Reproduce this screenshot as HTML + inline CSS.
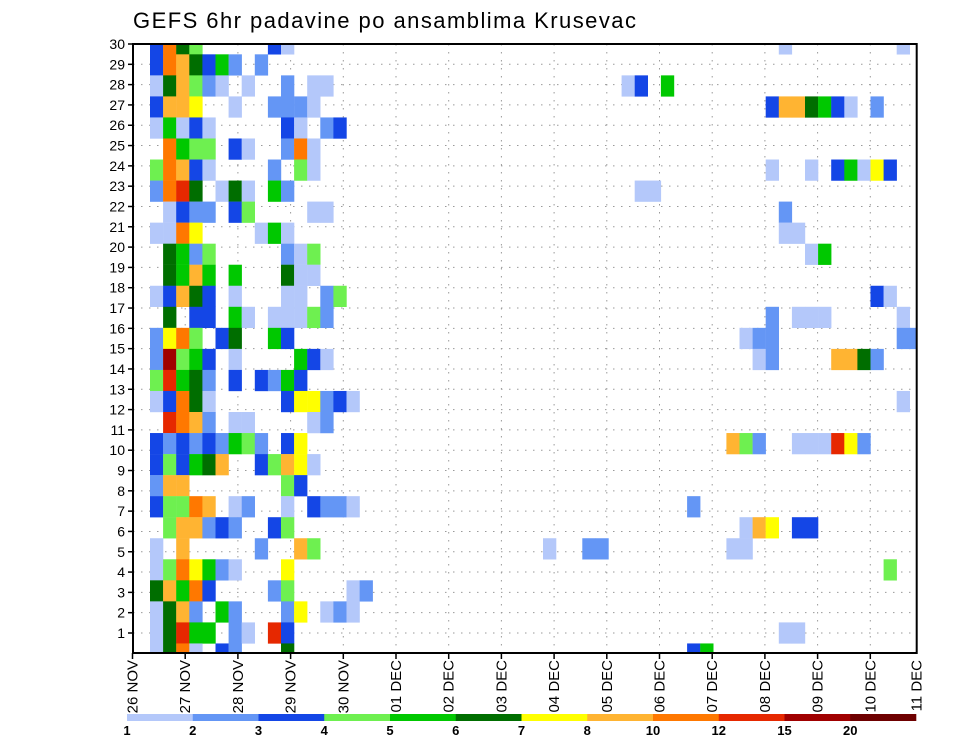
<!DOCTYPE html>
<html><head><meta charset="utf-8">
<style>
html,body{margin:0;padding:0;background:#fff;}
svg{display:block;font-family:"Liberation Sans",sans-serif;}
</style></head>
<body>
<svg id="chart" width="960" height="742" viewBox="0 0 960 742" xmlns="http://www.w3.org/2000/svg">
<rect x="0" y="0" width="960" height="742" fill="#fff"/>
<text x="133" y="28" font-size="22" textLength="503" fill="#000">GEFS 6hr padavine po ansamblima Krusevac</text>
<defs><clipPath id="plotclip"><rect x="133" y="44" width="783.7" height="609"/></clipPath></defs>
<g id="grid"></g>
<g id="cells" clip-path="url(#plotclip)"></g>
<rect x="133" y="44" width="783.7" height="609" fill="none" stroke="#000" stroke-width="2"/>
<g id="yaxis"></g>
<g id="xaxis"></g>
<g id="legend"></g>
</svg>
<script>
// ---- data ----
const dayLabels = ["26 NOV","27 NOV","28 NOV","29 NOV","30 NOV","01 DEC","02 DEC","03 DEC","04 DEC","05 DEC","06 DEC","07 DEC","08 DEC","09 DEC","10 DEC","11 DEC"];
const memberTicks = [1,2,3,4,5,6,7,8,9,10,11,12,13,14,15,16,17,18,19,20,21,22,23,24,25,26,27,28,29,30];
const levelBounds = [1,2,3,4,5,6,7,8,10,12,15,20];
const levelColors = ["#b4c8fa","#6496f5","#1446e6","#6ef050","#00c800","#006e00","#ffff00","#ffb432","#ff7800","#e62800","#a00000","#6e0000"];
const codeValues = {L:1.5,M:2.5,B:3.5,g:4.5,G:5.5,D:6.5,Y:7.5,o:9,O:11,R:13.5,K:17};
// each member row (top to bottom): "step+class" tokens
const memberRows = [
"0B 1O 2D 3g 9B 10L 48L 57L",
"0B 1O 2o 3D 4B 5G 6M 8M",
"0L 1D 2o 3g 4M 5L 7L 10M 12L 13L 36L 37B 39G",
"0B 1o 2o 3Y 6L 9M 10M 11M 12L 47B 48o 49o 50D 51G 52B 53L 55M",
"0L 1G 2L 3B 4L 10B 11L 13M 14B",
"1O 2G 3g 4g 6B 7L 10M 11O 12L",
"0g 1O 2o 3B 4L 9M 11g 12L 47L 50L 52B 53G 54L 55Y 56B",
"0M 1O 2R 3D 5L 6D 7L 9G 10M 37L 38L",
"1L 2B 3M 4M 6B 7g 12L 13L 48M",
"0L 1L 2O 3Y 8L 9G 10L 48L 49L",
"1D 2G 3M 4g 10M 11L 12g 50L 51G",
"1D 2G 3o 4G 6G 10D 11L 12L",
"0L 1B 2o 3D 4B 6L 10L 11L 13M 14g 55B 56L",
"1D 3B 4B 6G 7L 9L 10L 11L 12g 13M 47M 49L 50L 51L 57L",
"0M 1Y 2O 3g 5B 6D 9G 10B 45L 46M 47M 57M 58M",
"0M 1K 2g 3G 4B 6L 11G 12B 13L 46L 47M 52o 53o 54D 55M",
"0g 1R 2G 3D 4M 6B 8B 9M 10G 11B",
"0L 1B 2O 3D 4L 10B 11Y 12Y 13M 14B 15L 57L",
"1R 2O 3o 4M 6L 7L 12L 13M",
"0B 1M 2B 3M 4B 5M 6G 7g 8M 10B 11Y 44o 45g 46M 49L 50L 51L 52R 53Y 54M",
"0B 1g 2B 3G 4D 5o 8B 9g 10o 11Y 12L",
"0M 1o 2o 10g 11B",
"0B 1g 2g 3O 4o 6L 7M 10L 12B 13M 14M 15L 41M",
"1g 2o 3o 4M 5B 6M 9B 10g 45L 46o 47Y 49B 50B",
"0L 2o 8M 11o 12g 30L 33M 34M 44L 45L",
"0L 1g 2O 3Y 4G 5M 6L 10Y 56g",
"0D 1o 2G 3O 4B 9M 10g 15L 16M",
"0L 1D 2o 3M 5G 6M 10M 11Y 13L 14M 15L",
"0L 1D 2R 3G 4G 6M 7L 9R 10B 48L 49L",
"0L 1D 2O 3L 5B 6M 10D 41B 42G"
];

// ---- scales ----
const NS="http://www.w3.org/2000/svg";
const plotL=133, plotR=916.7, plotT=44, plotB=653;
function xDay(d){ return 132.5 + d*52.7; }
function xStep(k){ return 150 + k*13.1; }
const cellW = 13.1;
function yRow(j){ return 43.8 + j*21.04; }
const cellH = 21.04;
function yTick(m){ return 44 + (30-m)*20.31; }
function colorFor(v){ let c=null; for(let i=0;i<levelBounds.length;i++){ if(v>=levelBounds[i]) c=levelColors[i]; } return c; }
function mk(tag, attrs, parent){ const e=document.createElementNS(NS,tag); for(const a in attrs) e.setAttribute(a,attrs[a]); parent.appendChild(e); return e; }

const grid=document.getElementById('grid');
const cells=document.getElementById('cells');
const yaxis=document.getElementById('yaxis');
const xaxis=document.getElementById('xaxis');
const legend=document.getElementById('legend');

// grid
memberTicks.forEach(m=>{
  const l=mk('line',{x1:plotL,x2:plotR,y1:yTick(m),y2:yTick(m),stroke:'#9a9a9a','stroke-width':1,'stroke-dasharray':'1.5 6.5'},grid);
  
  
});
dayLabels.forEach((d,i)=>{
  const x=xDay(i); if(x<=plotL+1||x>=plotR) return;
  const l=mk('line',{x1:x,x2:x,y1:plotT,y2:plotB,stroke:'#9a9a9a','stroke-width':1,'stroke-dasharray':'1.5 6.5'},grid);
  
  
});

// cells
memberRows.forEach((row,j)=>{
  row.split(' ').forEach(tok=>{
    const k=parseInt(tok,10); const code=tok.replace(/^[0-9]+/,'');
    const v=codeValues[code];
    const r=mk('rect',{x:xStep(k),y:yRow(j)-cellH/2,width:cellW+0.2,height:cellH+0.2,fill:colorFor(v)},cells);
    
    
  });
});

// y axis
memberTicks.forEach(m=>{
  const y=yTick(m);
  const t=mk('line',{x1:plotL-5,x2:plotL,y1:y,y2:y,stroke:'#000','stroke-width':1.5},yaxis);
  
  
  const tx=mk('text',{x:plotL-8,y:y+5,'font-size':14,'text-anchor':'end',fill:'#000'},yaxis);
  tx.textContent=String(m);
  
  
});

// x axis
dayLabels.forEach((d,i)=>{
  const x=Math.min(xDay(i),plotR);
  if(xDay(i)<plotR){
    const t=mk('line',{x1:x,x2:x,y1:plotB,y2:plotB+6,stroke:'#000','stroke-width':1.5},xaxis);
    
    
  }
  const tx=mk('text',{x:0,y:0,'font-size':15,'text-anchor':'end',fill:'#000',transform:'translate('+(x+5)+',660) rotate(-90)'},xaxis);
  tx.textContent=d;
  
  
});

// legend
const legX0=127, legW=(916-127)/levelColors.length;
levelColors.forEach((c,i)=>{
  const r=mk('rect',{x:legX0+i*legW,y:714,width:legW+0.3,height:7,fill:c},legend);
  
  
});
levelBounds.forEach((b,i)=>{
  const tx=mk('text',{x:legX0+i*legW,y:735,'font-size':13,'font-weight':'bold','text-anchor':'middle',fill:'#000'},legend);
  tx.textContent=String(b);
  
  
});
</script>
</body></html>
